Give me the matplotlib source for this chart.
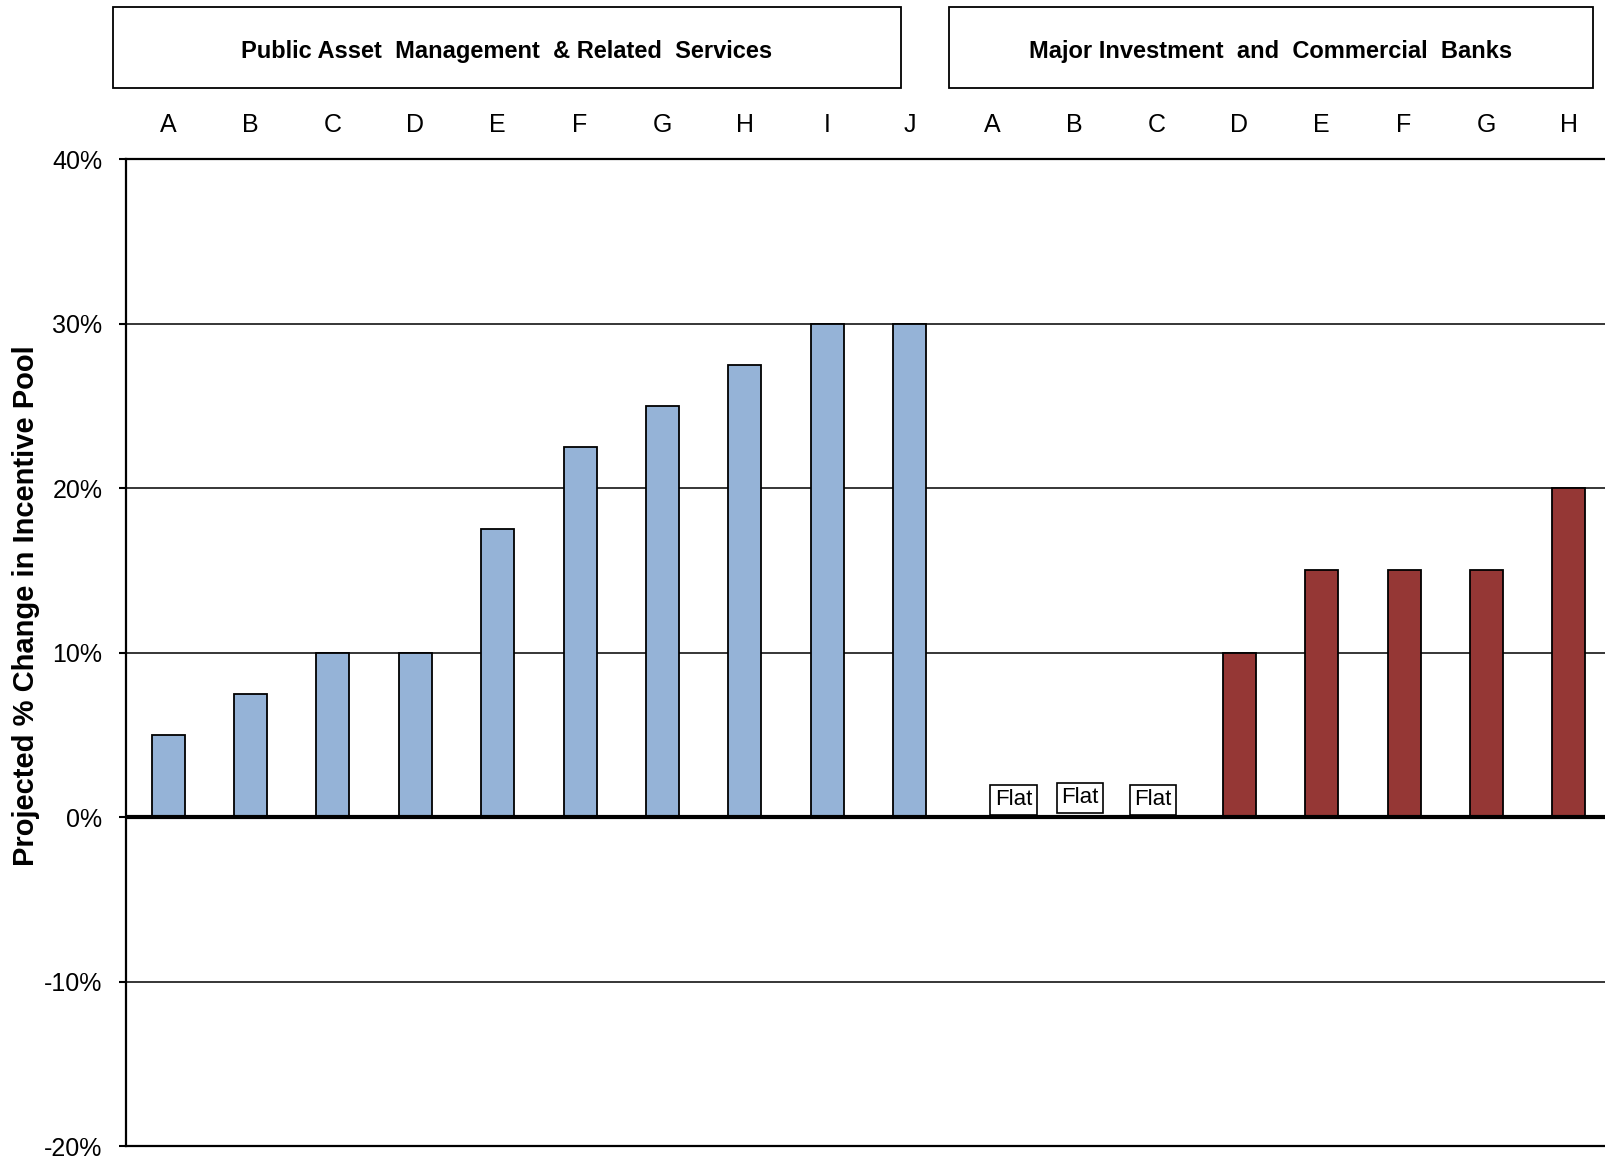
import numpy as np
import matplotlib.pyplot as plt
from matplotlib import font_manager
from matplotlib.patches import Rectangle
from matplotlib.transforms import blended_transform_factory

plt.rcParams['font.family'] = ['Liberation Sans', 'DejaVu Sans']

# projected % change in incentive pool, by firm
public_labels = ['A', 'B', 'C', 'D', 'E', 'F', 'G', 'H', 'I', 'J']
public_values = [5, 7.5, 10, 10, 17.5, 22.5, 25, 27.5, 30, 30]

bank_labels = ['A', 'B', 'C', 'D', 'E', 'F', 'G', 'H']
bank_values = [0, 0, 0, 10, 15, 15, 15, 20]
bank_flat = [True, True, True, False, False, False, False, False]

group_titles = ['Public Asset  Management  & Related  Services',
                'Major Investment  and  Commercial  Banks']

yticks = [-20, -10, 0, 10, 20, 30, 40]

blue = '#95B3D7'
red = '#953735'

# narrow face for the "Flat" tags if there is one
names = {f.name for f in font_manager.fontManager.ttflist}
if 'Liberation Sans Narrow' in names:
    flat_font, flat_size = 'Liberation Sans Narrow', 17
else:
    flat_font, flat_size = 'Liberation Sans', 16

fig = plt.figure(figsize=(16.06, 11.61), dpi=100)
ax = fig.add_axes([0.0785, 0.0129, 0.9215, 0.8501])

x_pub = np.arange(len(public_labels))
x_bank = np.arange(len(bank_labels)) + len(public_labels)

ax.bar(x_pub, public_values, width=0.4, color=blue, edgecolor='black', linewidth=1.3, zorder=3)
bank_drawn = [0 if f else v for v, f in zip(bank_values, bank_flat)]
ax.bar(x_bank, bank_drawn, width=0.4, color=red, edgecolor='black', linewidth=1.3, zorder=3)

# "Flat" tags for the banks with no change
flat_dx = [0.26, 0.07, -0.05]
k = 0
for xi, f in zip(x_bank, bank_flat):
    if f:
        ax.text(xi + flat_dx[k], 0.4 + (0.12 if k == 1 else 0), 'Flat',
                ha='center', va='bottom', fontsize=flat_size, family=flat_font,
                bbox=dict(boxstyle='square,pad=0.2', fc='white', ec='black', lw=1.2),
                zorder=5)
        k += 1

ax.set_ylim(-20, 40)
ax.set_xlim(-0.51, 17.45)
ax.set_yticks(yticks)
ax.set_yticklabels(['%d%%' % t for t in yticks], fontsize=18)

for t in [-10, 10, 20, 30]:
    ax.axhline(t, color='black', lw=1.1, zorder=2)
ax.axhline(0, color='black', lw=3, zorder=4)

ax.set_xticks(np.concatenate([x_pub, x_bank]))
ax.set_xticklabels(public_labels + bank_labels, fontsize=18)
ax.tick_params(axis='x', top=True, labeltop=True, bottom=False, labelbottom=False,
               length=0, pad=16)
ax.tick_params(axis='y', length=5, width=1.5, direction='out', pad=12)

for s in ['left', 'top', 'bottom']:
    ax.spines[s].set_linewidth(1.6)
ax.spines['right'].set_visible(False)

fig.text(0.016, 0.478, 'Projected % Change in Incentive Pool', rotation=90,
         ha='center', va='center', fontsize=21, fontweight='bold')

# group header boxes above the columns
tr = blended_transform_factory(ax.transData, fig.transFigure)
boxes = [(-0.67, 8.89), (9.48, 17.29)]
for (x0, x1), title in zip(boxes, group_titles):
    fig.add_artist(Rectangle((x0, 0.924), x1 - x0, 0.07, transform=tr,
                             fill=False, ec='black', lw=1.3, clip_on=False))
    fig.text((x0 + x1) / 2, 0.956, title, transform=tr, ha='center', va='center',
             fontsize=17, fontweight='bold')

fig.savefig('out.png', dpi=100)
